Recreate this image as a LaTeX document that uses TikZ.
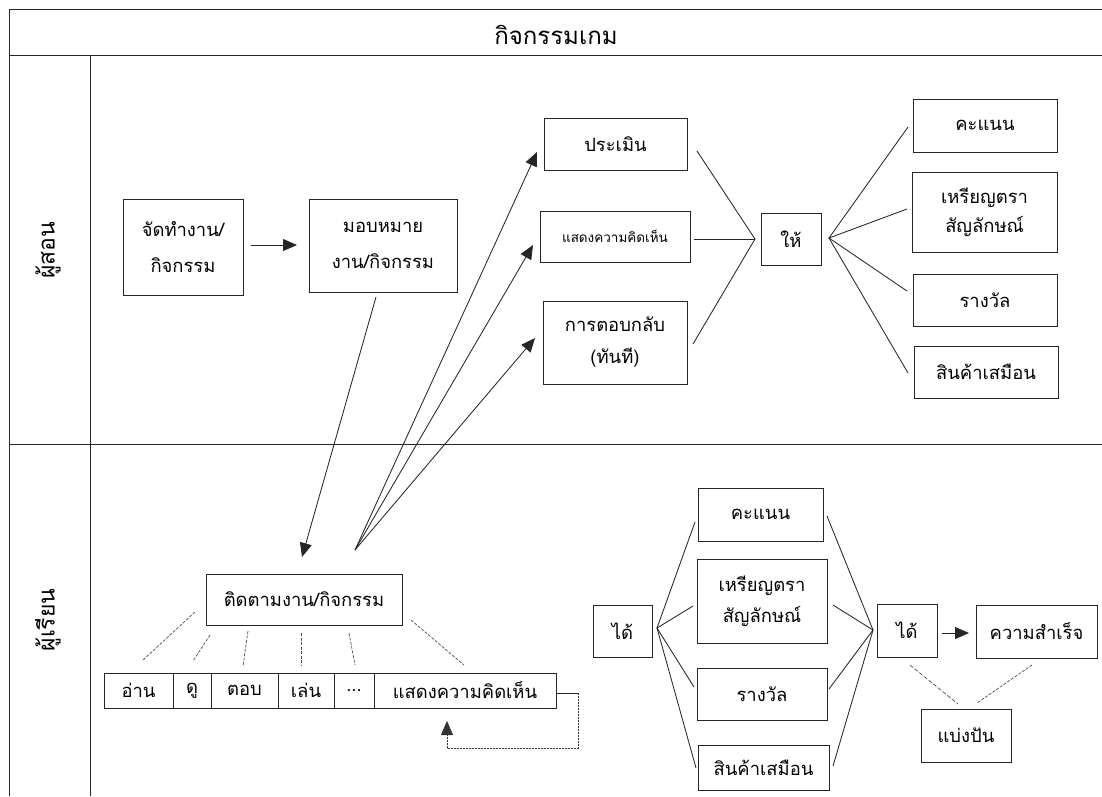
\documentclass[tikz,border=0pt]{standalone}
\usepackage{fontspec}
\setmainfont{Liberation Sans}
\newfontfamily\thai[Script=Thai]{Loma}
\usetikzlibrary{arrows.meta}
\begin{document}
\begin{tikzpicture}[x=1pt,y=-1pt,
  frame/.style={line width=0.9pt, draw=black!85},
  box/.style={draw=black!85, line width=0.9pt, inner sep=0pt, align=center,
    font=\thai\fontsize{18.4}{36}\selectfont},
  cell/.style={draw=black!85, line width=0.9pt, inner sep=0pt, minimum height=35pt,
    font=\thai\fontsize{18.4}{22}\selectfont},
  conn/.style={draw=black!85, line width=0.85pt},
  arr/.style={conn, -{Triangle[length=14pt,width=12pt]}},
  dsh/.style={draw=black!70, line width=0.7pt, dash pattern=on 3pt off 1.5pt},
  lane/.style={font=\thai\fontsize{23}{26}\selectfont, rotate=90}
]
\useasboundingbox (0,0) rectangle (1102,796);
% frame
\coordinate (f1) at (9,9); \coordinate (f2) at (1102,9);
\coordinate (f3) at (9,55); \coordinate (f4) at (1102,55);
\coordinate (f5) at (9,796); \coordinate (f6) at (90,55); \coordinate (f7) at (90,796);
\coordinate (f8) at (9,444); \coordinate (f9) at (1102,444);
\draw[frame] (f2) -- (f1) -- (f5);
\draw[frame] (f3) -- (f4);
\draw[frame] (f6) -- (f7);
\draw[frame] (f8) -- (f9);
\node[font=\thai\fontsize{24}{28}\selectfont] (title) at (556,35) {กิจกรรมเกม};
\node[lane] (teacher) at (48,250) {ผู้สอน};
\node[lane] (student) at (48,620) {ผู้เรียน};

% teacher lane boxes
\node[box, minimum width=120pt, minimum height=96pt] (A) at (183,247) {จัดทำงาน/\\กิจกรรม};
\node[box, minimum width=148pt, minimum height=93pt] (B) at (383,245.5) {มอบหมาย\\งาน/กิจกรรม};
\node[box, minimum width=143pt, minimum height=52pt] (P1) at (615.5,144) {ประเมิน};
\node[box, minimum width=150pt, minimum height=51pt, font=\thai\fontsize{13.5}{16}\selectfont] (P2) at (615,236.5) {แสดงความคิดเห็น};
\node[box, minimum width=144pt, minimum height=83pt, font=\thai\fontsize{18.4}{32}\selectfont] (P3) at (615,342.5) {การตอบกลับ\\(ทันที)};
\node[box, minimum width=60pt, minimum height=52pt] (G) at (791,239) {ให้};
\node[box, minimum width=144pt, minimum height=53pt] (R1) at (985,125.5) {คะแนน};
\node[box, minimum width=145pt, minimum height=80pt, font=\thai\fontsize{18.4}{29}\selectfont] (R2) at (984.5,212) {เหรียญตรา\\สัญลักษณ์};
\node[box, minimum width=144pt, minimum height=52pt] (R3) at (985,300) {รางวัล};
\node[box, minimum width=144pt, minimum height=52pt] (R4) at (986,372) {สินค้าเสมือน};

\coordinate (a1) at (251,245); \coordinate (a2) at (297,245);
\draw[arr] (a1) -- (a2);

\coordinate (p1r) at (697,151); \coordinate (p2r) at (694,239); \coordinate (p3r) at (693,344);
\coordinate (gl) at (755,239); \coordinate (gr) at (829,238);
\draw[conn] (p1r) -- (gl) -- (p3r);
\draw[conn] (p2r) -- (gl);
\coordinate (r1l) at (908,127); \coordinate (r2l) at (907,209);
\coordinate (r3l) at (907,291); \coordinate (r4l) at (908,373);
\draw[conn] (r1l) -- (gr) -- (r4l);
\draw[conn] (r2l) -- (gr) -- (r3l);

% student lane
\node[box, minimum width=196pt, minimum height=51pt] (T) at (304,599.5) {ติดตามงาน/กิจกรรม};
\node[cell, minimum width=69pt] (c1) at (138.5,690.5) {อ่าน};
\node[cell, minimum width=38pt] (c2) at (192,690.5) {ดู};
\node[cell, minimum width=67pt] (c3) at (244.5,690.5) {ตอบ};
\node[cell, minimum width=56pt] (c4) at (306,690.5) {เล่น};
\node[cell, minimum width=40pt] (c5) at (354,690.5) {...};
\node[cell, minimum width=182pt] (c6) at (465,690.5) {แสดงความคิดเห็น};

% assignment arrow and fan
\coordinate (bs) at (376,297); \coordinate (bt) at (302,557);
\draw[arr] (bs) -- (bt);
\coordinate (fan) at (355,550);
\coordinate (t1) at (537,152); \coordinate (t2) at (533,245); \coordinate (t3) at (535,338);
\draw[arr] (fan) -- (t1);
\draw[arr] (fan) -- (t2);
\draw[arr] (fan) -- (t3);

% dashed links from T to cells
\coordinate (d1a) at (195,612); \coordinate (d1b) at (142,661);
\coordinate (d2a) at (210,635); \coordinate (d2b) at (193,661);
\coordinate (d3a) at (248,631); \coordinate (d3b) at (243,666);
\coordinate (d4a) at (301,633); \coordinate (d4b) at (301,665);
\coordinate (d5a) at (349,633); \coordinate (d5b) at (355,665);
\coordinate (d6a) at (411,620); \coordinate (d6b) at (464,665);
\draw[dsh] (d1a) -- (d1b);
\draw[dsh] (d2a) -- (d2b);
\draw[dsh] (d3a) -- (d3b);
\draw[dsh] (d4a) -- (d4b);
\draw[dsh] (d5a) -- (d5b);
\draw[dsh] (d6a) -- (d6b);

% feedback loop
\coordinate (fb1) at (578,693); \coordinate (fb2) at (578,748);
\coordinate (fb3) at (447,748); \coordinate (fb4) at (447,721);
\draw[conn] (c6.east |- fb1) -- (fb1);
\draw[draw=black!80, line width=0.8pt, dash pattern=on 2pt off 1pt, -{Triangle[length=14pt,width=12pt]}] (fb1) -- (fb2) -- (fb3) -- (fb4);

% rewards lower right
\node[box, minimum width=59pt, minimum height=52pt] (L) at (622.5,631) {ได้};
\node[box, minimum width=125pt, minimum height=53pt] (M1) at (760.5,514.5) {คะแนน};
\node[box, minimum width=130pt, minimum height=84pt, font=\thai\fontsize{18.4}{31}\selectfont] (M2) at (762,601) {เหรียญตรา\\สัญลักษณ์};
\node[box, minimum width=130pt, minimum height=52pt] (M3) at (762,694) {รางวัล};
\node[box, minimum width=131pt, minimum height=45pt] (M4) at (763.5,767.5) {สินค้าเสมือน};
\node[box, minimum width=60pt, minimum height=53pt] (N) at (907,630.5) {ได้};
\node[box, minimum width=121pt, minimum height=53pt] (S) at (1036.5,631.5) {ความสำเร็จ};
\node[box, minimum width=90pt, minimum height=53pt] (K) at (966,735.5) {แบ่งปัน};

\coordinate (lr) at (657,628);
\coordinate (m1l) at (695,522); \coordinate (m2l) at (693,606);
\coordinate (m3l) at (694,687); \coordinate (m4l) at (696,768);
\draw[conn] (m1l) -- (lr) -- (m4l);
\draw[conn] (m2l) -- (lr) -- (m3l);
\coordinate (nl) at (873,630);
\coordinate (m1r) at (827,516); \coordinate (m2r) at (833,605);
\coordinate (m3r) at (829,689); \coordinate (m4r) at (833,766);
\draw[conn] (m1r) -- (nl) -- (m4r);
\draw[conn] (m2r) -- (nl) -- (m3r);
\coordinate (ns1) at (942,633); \coordinate (ns2) at (969,633);
\draw[arr] (ns1) -- (ns2);
\coordinate (k1a) at (910,665); \coordinate (k1b) at (958,704);
\coordinate (k2a) at (1032,665); \coordinate (k2b) at (977,703);
\draw[draw=black!70, line width=0.7pt, dash pattern=on 4pt off 2pt] (k1a) -- (k1b);
\draw[dsh] (k2a) -- (k2b);
\end{tikzpicture}
\end{document}
